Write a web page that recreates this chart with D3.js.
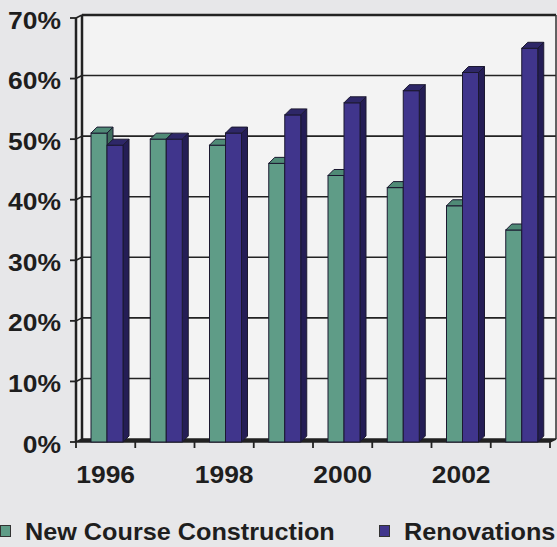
<!DOCTYPE html>
<html>
<head>
<meta charset="utf-8">
<script src="https://cdnjs.cloudflare.com/ajax/libs/d3/7.8.5/d3.min.js"></script>
<style>
  html, body { margin: 0; padding: 0; background: #e7e7e9; }
  svg { display: block; }
  text { font-family: "Liberation Sans", Arial, sans-serif; font-weight: bold; fill: #1e1e1e; }
</style>
</head>
<body>
<svg id="chart"></svg>
<script>
// data
const years = ['1996', '1997', '1998', '1999', '2000', '2001', '2002', '2003'];
const newCourse = [51, 50, 49, 46, 44, 42, 39, 35];
const renovations = [49, 50, 51, 54, 56, 58, 61, 65];
const yTicks = [0, 10, 20, 30, 40, 50, 60, 70];
const yearLabels = ['1996', '1998', '2000', '2002'];
const seriesNames = ['New Course Construction', 'Renovations'];
const seriesColors = ['#5f9c87', '#40358c'];
const sideColors = ['#3f6f5e', '#241d55'];
const topColors = ['#4f8a76', '#2e2768'];

const width = 557, height = 547;
const wallDx = 6, wallDy = -3;   // back wall offset
const barDx = 6, barDy = -6;     // bar depth

const svg = d3.select('#chart').attr('width', width).attr('height', height);

const x = d3.scaleBand().domain(years).range([76, 550]);
const inner = d3.scaleBand().domain([0, 1]).range([15, 47]);
const y = d3.scaleLinear().domain([0, 70]).range([442, 18]);

const y0 = y(0), yTop = y(70);
const xL = x.range()[0], xR = x.range()[1];

// back wall
svg.append('rect')
  .attr('x', xL + wallDx).attr('y', yTop + wallDy)
  .attr('width', xR - xL).attr('height', y0 - yTop)
  .attr('fill', '#f3f3f3');

// side wall
svg.append('polygon')
  .attr('points', [[xL, yTop], [xL + wallDx, yTop + wallDy], [xL + wallDx, y0 + wallDy], [xL, y0]].join(' '))
  .attr('fill', '#f0f0f0');

// gridlines on back wall and side wall
const grid = svg.append('g').attr('stroke', '#222').attr('stroke-width', 1.6);
grid.selectAll('line.g')
  .data(yTicks.filter(d => d > 0))
  .enter().append('line')
  .attr('x1', xL + wallDx).attr('x2', xR + wallDx)
  .attr('y1', d => y(d) + wallDy).attr('y2', d => y(d) + wallDy);
grid.selectAll('line.s')
  .data(yTicks.filter(d => d > 0))
  .enter().append('line')
  .attr('x1', xL).attr('x2', xL + wallDx)
  .attr('y1', d => y(d)).attr('y2', d => y(d) + wallDy);

// wall edges
svg.append('line')
  .attr('x1', xL + wallDx).attr('x2', xR + wallDx)
  .attr('y1', yTop + wallDy).attr('y2', yTop + wallDy)
  .attr('stroke', '#222').attr('stroke-width', 2.5);
svg.append('line')
  .attr('x1', xL + wallDx).attr('x2', xL + wallDx)
  .attr('y1', yTop + wallDy).attr('y2', y0 + wallDy)
  .attr('stroke', '#222').attr('stroke-width', 2.5);
svg.append('line')
  .attr('x1', xR + wallDx).attr('x2', xR + wallDx)
  .attr('y1', yTop + wallDy).attr('y2', y0 + wallDy)
  .attr('stroke', '#333').attr('stroke-width', 1.5);

// floor
svg.append('polygon')
  .attr('points', [[xL, y0], [xR, y0], [xR + wallDx, y0 + wallDy], [xL + wallDx, y0 + wallDy]].join(' '))
  .attr('fill', '#222').attr('stroke', '#222').attr('stroke-width', 1.5);

// y axis
svg.append('line')
  .attr('x1', xL).attr('x2', xL).attr('y1', yTop).attr('y2', y0)
  .attr('stroke', '#222').attr('stroke-width', 2.5);
svg.append('g').selectAll('line')
  .data(yTicks).enter().append('line')
  .attr('x1', xL - 6).attr('x2', xL)
  .attr('y1', d => y(d)).attr('y2', d => y(d))
  .attr('stroke', '#222').attr('stroke-width', 1.8);
svg.append('g').selectAll('text')
  .data(yTicks).enter().append('text')
  .attr('text-anchor', 'end')
  .attr('font-size', 24.5)
  .attr('transform', d => `translate(61,${y(d) + 10.5}) scale(1.08,1)`)
  .text(d => d + '%');

// x axis ticks and labels
const xTickPos = years.map(d => x(d)).concat([xR]);
svg.append('g').selectAll('line')
  .data(xTickPos).enter().append('line')
  .attr('x1', d => d).attr('x2', d => d)
  .attr('y1', y0).attr('y2', y0 + 6)
  .attr('stroke', '#222').attr('stroke-width', 1.8);
svg.append('g').selectAll('text')
  .data(yearLabels).enter().append('text')
  .attr('text-anchor', 'middle')
  .attr('font-size', 24.5)
  .attr('transform', d => `translate(${x(d) + x.bandwidth() / 2},483) scale(1.08,1)`)
  .text(d => d);

// bars
const rows = years.map((yr, i) => ({ yr, vals: [newCourse[i], renovations[i]] }));
const groups = svg.append('g').selectAll('g')
  .data(rows).enter().append('g')
  .attr('transform', d => `translate(${x(d.yr)},0)`);

[0, 1].forEach(s => {
  const bw = inner.bandwidth();
  // side face
  groups.append('polygon')
    .attr('points', d => {
      const x1 = inner(s) + bw, yt = y(d.vals[s]);
      return [[x1, yt], [x1 + barDx, yt + barDy], [x1 + barDx, y0 + barDy], [x1, y0]].join(' ');
    })
    .attr('fill', sideColors[s]).attr('stroke', '#1b1830').attr('stroke-width', 1);
  // front face
  groups.append('rect')
    .attr('x', inner(s)).attr('width', bw)
    .attr('y', d => y(d.vals[s]))
    .attr('height', d => y0 - y(d.vals[s]))
    .attr('fill', seriesColors[s]).attr('stroke', '#1b1830').attr('stroke-width', 1);
  // top face
  groups.append('polygon')
    .attr('points', d => {
      const x0 = inner(s), yt = y(d.vals[s]);
      return [[x0, yt], [x0 + bw, yt], [x0 + bw + barDx, yt + barDy], [x0 + barDx, yt + barDy]].join(' ');
    })
    .attr('fill', topColors[s]).attr('stroke', '#1b1830').attr('stroke-width', 1);
});

// legend
const legendX = [0, 379];
const legend = svg.append('g').selectAll('g')
  .data(seriesNames).enter().append('g')
  .attr('transform', (d, i) => `translate(${legendX[i]},524)`);
legend.append('rect')
  .attr('x', 0.5).attr('y', 1.5).attr('width', 10).attr('height', 11)
  .attr('fill', (d, i) => seriesColors[i]).attr('stroke', '#333').attr('stroke-width', 1);
legend.append('text')
  .attr('transform', 'translate(25,16) scale(1.03,1)')
  .attr('font-size', 24.5)
  .text(d => d);
</script>
</body>
</html>
